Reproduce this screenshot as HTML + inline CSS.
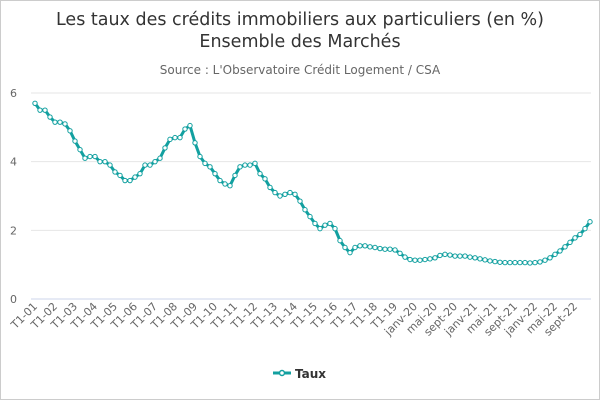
<!DOCTYPE html>
<html><head><meta charset="utf-8"><style>
body{margin:0;background:#fff;font-family:"DejaVu Sans","Liberation Sans",sans-serif}
#c{position:relative;width:598px;height:398px;border:1px solid #ccc;background:#fff}
svg text{font-family:"DejaVu Sans","Liberation Sans",sans-serif}
</style></head><body>
<div id="c">
<svg id="s" width="598" height="398" xmlns="http://www.w3.org/2000/svg">
<text x="299" y="24" text-anchor="middle" font-size="17.5" fill="#333">Les taux des crédits immobiliers aux particuliers (en %)</text>
<text x="299" y="46" text-anchor="middle" font-size="17.5" fill="#333">Ensemble des Marchés</text>
<text x="299" y="73" text-anchor="middle" font-size="12" fill="#666">Source : L'Observatoire Crédit Logement / CSA</text>
<g id="grid"></g><g id="xl"></g><g id="ser"></g>
<g>
<line x1="272" y1="372" x2="290" y2="372" stroke="#12a0a0" stroke-width="3"/>
<circle cx="281" cy="372" r="2.5" fill="#fff" stroke="#12a0a0" stroke-width="1.5"/>
<text x="294" y="377" font-size="12" font-weight="bold" fill="#333">Taux</text>
</g>
</svg></div>
<script>
const quarterValues=[5.7,5.5,5.5,5.3,5.15,5.15,5.1,4.9,4.6,4.35,4.1,4.15,4.15,4.0,4.0,3.9,3.7,3.6,3.45,3.45,3.55,3.65,3.9,3.9,4.0,4.1,4.4,4.65,4.7,4.7,4.95,5.05,4.55,4.15,3.95,3.85,3.65,3.45,3.35,3.3,3.6,3.85,3.9,3.9,3.95,3.65,3.5,3.25,3.1,3.0,3.05,3.1,3.05,2.85,2.6,2.4,2.2,2.05,2.15,2.2,2.05,1.7,1.5,1.35,1.5,1.55,1.55,1.52,1.5,1.47,1.45,1.45,1.43,1.33,1.22,1.15];
const monthValues=[1.13,1.13,1.15,1.17,1.2,1.27,1.3,1.28,1.25,1.25,1.25,1.22,1.2,1.17,1.14,1.11,1.09,1.07,1.06,1.06,1.06,1.06,1.06,1.05,1.06,1.08,1.13,1.2,1.3,1.4,1.52,1.65,1.78,1.88,2.05,2.25];
const yTicks=[0,2,4,6];
const moNames=["janv","févr","mars","avr","mai","juin","juil","août","sept","oct","nov","déc"];
const categories=[];
for(let y=1;y<=19;y++)for(let q=1;q<=4;q++)categories.push("T"+q+"-"+String(y).padStart(2,"0"));
for(let y=20;y<=22;y++)for(let m=0;m<12;m++)categories.push(moNames[m]+"-"+y);
const values=quarterValues.concat(monthValues);
const NS="http://www.w3.org/2000/svg";
const X0=34,X1=589,Y0=298,Y6=92;
const xs=i=>X0+(X1-X0)*i/(categories.length-1);
const ys=v=>Y0+(Y6-Y0)*v/6;
const mk=(t,a,p)=>{const e=document.createElementNS(NS,t);for(const k in a)e.setAttribute(k,a[k]);p.appendChild(e);return e;};
const grid=document.getElementById("grid");
yTicks.forEach(t=>{
 const l=mk("line",{x1:30,x2:590,y1:ys(t),y2:ys(t),stroke:t===0?"#ccd6eb":"#e6e6e6","stroke-width":1},grid);
 
 
 const tx=mk("text",{x:16,y:ys(t)+4,"text-anchor":"end","font-size":11,fill:"#666"},grid);
 tx.textContent=t;
 
 
});
const xl=document.getElementById("xl");
categories.forEach((c,i)=>{
 if(i%4!==0)return;
 if(i>=76&&!/^(janv|mai|sept)/.test(c))return;
 const x=xs(i);
 const tx=mk("text",{x:x+3,y:306,"text-anchor":"end","font-size":11,fill:"#666",transform:`rotate(-45 ${x+3} 306)`},xl);
 tx.textContent=c;
 
 
});
const ser=document.getElementById("ser");
const pl=mk("polyline",{points:values.map((v,i)=>xs(i)+","+ys(v)).join(" "),fill:"none",stroke:"#12a0a0","stroke-width":3,"stroke-linejoin":"round"},ser);


values.forEach((v,i)=>{
 const c=mk("circle",{cx:xs(i),cy:ys(v),r:2.2,fill:"#fff",stroke:"#12a0a0","stroke-width":1},ser);
 
 
});
</script>
</body></html>
